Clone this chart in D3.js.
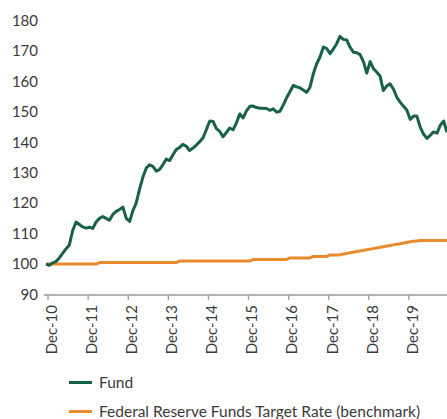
<!DOCTYPE html>
<html>
<head>
<meta charset="utf-8">
<script src="https://cdn.jsdelivr.net/npm/d3@7"></script>
<style>
  html, body { margin: 0; padding: 0; background: #fff; }
  svg { display: block; }
  text { font-family: Lato, "Noto Sans", sans-serif; fill: #3a3a3a; }
</style>
</head>
<body>
<svg id="chart" width="447" height="419"></svg>
<script>
// Monthly index values, Dec 2010 .. Dec 2020
const startMonth = "2010-12-01";
const fundValues = [
  100.0, 99.6, 100.4, 100.8, 102.0, 103.5, 105.0, 106.2, 111.0, 113.8,
  113.0, 112.2, 111.8, 112.1, 111.7, 113.8, 115.0, 115.6, 115.0, 114.4,
  116.3, 117.3, 117.9, 118.7, 115.0, 114.0, 117.7, 119.9, 124.5, 128.5,
  131.5, 132.6, 132.1, 130.5, 131.1, 132.7, 134.5, 134.0, 136.0, 137.6,
  138.3, 139.3, 138.7, 137.3, 138.1, 139.1, 140.2, 141.5, 144.2, 147.0,
  146.8, 144.6, 143.6, 141.8, 143.2, 144.7, 144.1, 146.4, 149.3, 148.0,
  150.3, 151.8, 151.9, 151.4, 151.2, 151.2, 151.1, 150.5, 151.0, 149.9,
  150.2, 152.3, 154.6, 156.7, 158.7, 158.2, 157.9, 157.2, 156.4, 158.0,
  162.5, 165.8, 168.0, 171.3, 170.8, 169.1, 170.7, 172.3, 174.8, 173.8,
  173.6, 171.3, 169.6, 169.4, 168.8, 166.5, 162.7, 166.5, 164.1, 163.1,
  161.8, 157.0, 158.5, 159.2, 157.5, 154.8, 153.2, 151.8, 150.6, 147.5,
  148.6, 148.6, 145.0, 142.7, 141.3, 142.3, 143.4, 143.0, 145.6, 147.0,
  143.3
];
const benchmarkValues = [
  100.0, 100.0, 100.0, 100.0, 100.0, 100.0, 100.0, 100.0, 100.0, 100.0,
  100.0, 100.0, 100.0, 100.0, 100.0, 100.0, 100.5, 100.5, 100.5, 100.5,
  100.5, 100.5, 100.5, 100.5, 100.5, 100.5, 100.5, 100.5, 100.5, 100.5,
  100.5, 100.5, 100.5, 100.5, 100.5, 100.5, 100.5, 100.5, 100.5, 100.5,
  101.0, 101.0, 101.0, 101.0, 101.0, 101.0, 101.0, 101.0, 101.0, 101.0,
  101.0, 101.0, 101.0, 101.0, 101.0, 101.0, 101.0, 101.0, 101.0, 101.0,
  101.0, 101.0, 101.5, 101.5, 101.5, 101.5, 101.5, 101.5, 101.5, 101.5,
  101.5, 101.5, 101.5, 102.0, 102.0, 102.0, 102.0, 102.0, 102.0, 102.0,
  102.5, 102.5, 102.5, 102.5, 102.5, 103.0, 103.0, 103.0, 103.0, 103.3,
  103.5, 103.7, 103.9, 104.1, 104.3, 104.5, 104.7, 104.9, 105.1, 105.3,
  105.5, 105.7, 105.9, 106.1, 106.3, 106.5, 106.7, 106.9, 107.1, 107.3,
  107.5, 107.6, 107.7, 107.7, 107.7, 107.7, 107.7, 107.7, 107.7, 107.7,
  107.7
];
const yTicks = [90, 100, 110, 120, 130, 140, 150, 160, 170, 180];
const xTickLabels = ["Dec-10","Dec-11","Dec-12","Dec-13","Dec-14","Dec-15","Dec-16","Dec-17","Dec-18","Dec-19"];
const seriesNames = ["Fund", "Federal Reserve Funds Target Rate (benchmark)"];
const seriesColors = ["#17604a", "#e88b2e"];

const parse = d3.utcParse("%Y-%m-%d");
const t0 = parse(startMonth);
const dates = fundValues.map((_, i) => d3.utcMonth.offset(t0, i));
const tickDates = xTickLabels.map((_, i) => d3.utcDay.offset(d3.utcYear.offset(t0, i), 14));

const svg = d3.select("#chart");

const x = d3.scaleUtc().domain([t0, d3.utcMonth.offset(t0, 120)]).range([46, 447]);
const y = d3.scaleLinear().domain([90, 180]).range([294.5, 20.5]);

// Y labels
const yAxis = svg.append("g").attr("transform", "translate(38,0)")
  .call(d3.axisLeft(y).tickValues(yTicks).tickSize(0).tickPadding(0).tickFormat(d3.format("d")));
yAxis.select(".domain").remove();
yAxis.selectAll("text").style("font-size", "15px").attr("fill", "#3a3a3a").style("font-family", "Lato, sans-serif");

// X axis
const xAxisG = svg.append("g").attr("transform", "translate(0,295)")
  .call(d3.axisBottom(x).tickValues(tickDates).tickSize(5).tickFormat((d, i) => xTickLabels[i]));
xAxisG.select(".domain").remove();
xAxisG.insert("line", ":first-child").attr("x1", 44).attr("x2", 447).attr("y1", 0).attr("y2", 0)
  .attr("stroke", "#9a9a9a").attr("stroke-width", 1.5);
xAxisG.selectAll(".tick line").attr("stroke", "#9a9a9a").attr("stroke-width", 1.3);
xAxisG.selectAll("text")
  .style("font-size", "15px").style("font-family", "Lato, sans-serif").attr("fill", "#3a3a3a")
  .attr("text-anchor", "end").attr("dy", null).attr("y", 0)
  .attr("transform", "translate(5,10) rotate(-90)")
  .attr("dominant-baseline", "middle");

// Lines
const line = d3.line().x((d, i) => x(dates[i])).y(d => y(d));
svg.append("path").datum(benchmarkValues).attr("fill", "none")
  .attr("stroke", seriesColors[1]).attr("stroke-width", 3).attr("stroke-linejoin", "round").attr("d", line);
svg.append("path").datum(fundValues).attr("fill", "none")
  .attr("stroke", seriesColors[0]).attr("stroke-width", 3).attr("stroke-linejoin", "round").attr("d", line);

// Legend
const legend = svg.append("g");
seriesNames.forEach((name, i) => {
  const yy = 382.5 + i * 29;
  legend.append("line").attr("x1", 69).attr("x2", 92).attr("y1", yy).attr("y2", yy)
    .attr("stroke", seriesColors[i]).attr("stroke-width", 3);
  legend.append("text").attr("x", 99).attr("y", yy).attr("dy", "0.35em")
    .style("font-size", "15.5px").text(name);
});
</script>
</body>
</html>
